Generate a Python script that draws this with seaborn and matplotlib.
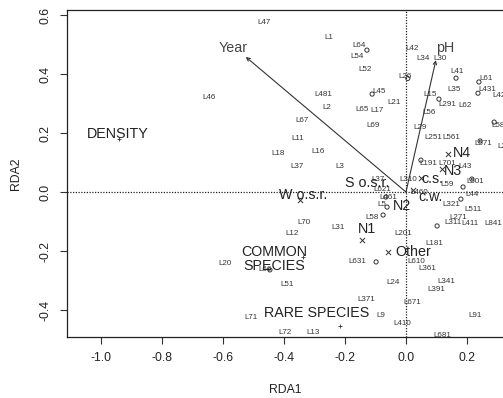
import matplotlib
matplotlib.use('Agg')
import matplotlib.pyplot as plt
import seaborn as sns
import pandas as pd

# site scores (labels only)
site_names = ['L47', 'L46', 'L1', 'L64', 'L54', 'L52', 'L42', 'L34', 'L30', 'L26',
              'L41', 'L61', 'L431', 'L42', 'L481', 'L45', 'L35', 'L15', 'L21', 'L2',
              'L65', 'L17', 'L291', 'L62', 'L56', 'L67', 'L69', 'L29', 'L581', 'L251',
              'L561', 'L571', 'L22', 'L191', 'L701', 'L43', 'L310', 'L59', 'L501', 'L37',
              'L621', 'L461', 'L5', 'L460', 'L3', 'L16', 'L11', 'L18', 'L37', 'L58',
              'L70', 'L31', 'L12', 'L201', 'L20', 'L66', 'L51', 'L631', 'L181', 'L610',
              'L361', 'L24', 'L341', 'L391', 'L371', 'L671', 'L9', 'L91', 'L71', 'L410',
              'L72', 'L13', 'L681', 'L44', 'L321', 'L511', 'L271', 'L311', 'L411', 'L841']
site_x = [-0.466, -0.646, -0.252, -0.154, -0.161, -0.134, 0.020, 0.056, 0.112, -0.003,
          0.167, 0.262, 0.268, 0.305, -0.272, -0.089, 0.157, 0.079, -0.039, -0.259,
          -0.144, -0.095, 0.134, 0.193, 0.075, -0.341, -0.108, 0.046, 0.310, 0.089,
          0.148, 0.252, 0.321, 0.072, 0.134, 0.193, 0.007, 0.134, 0.226, -0.092,
          -0.079, -0.059, -0.079, 0.043, -0.216, -0.289, -0.354, -0.420, -0.357, -0.111,
          -0.334, -0.223, -0.374, -0.010, -0.593, -0.462, -0.390, -0.161, 0.092, 0.033,
          0.069, -0.043, 0.131, 0.098, -0.131, 0.020, -0.082, 0.226, -0.508, -0.013,
          -0.397, -0.305, 0.118, 0.216, 0.148, 0.220, 0.170, 0.154, 0.210, 0.285]
site_y = [0.576, 0.322, 0.525, 0.498, 0.461, 0.414, 0.485, 0.451, 0.451, 0.390,
          0.407, 0.386, 0.349, 0.328, 0.332, 0.342, 0.346, 0.332, 0.305, 0.285,
          0.281, 0.278, 0.295, 0.292, 0.268, 0.241, 0.227, 0.220, 0.227, 0.186,
          0.186, 0.163, 0.153, 0.098, 0.098, 0.088, 0.044, 0.024, 0.037, 0.044,
          0.007, -0.017, -0.041, -0.003, 0.085, 0.136, 0.180, 0.132, 0.085, -0.085,
          -0.105, -0.119, -0.142, -0.142, -0.241, -0.261, -0.315, -0.237, -0.176, -0.234,
          -0.258, -0.308, -0.302, -0.329, -0.366, -0.373, -0.420, -0.417, -0.427, -0.447,
          -0.475, -0.475, -0.485, -0.007, -0.041, -0.058, -0.085, -0.105, -0.108, -0.108]

# small open circles
circle_x = [-0.128, 0.006, 0.164, 0.239, 0.236, -0.111, 0.108, 0.289, 0.243, 0.049,
            0.216, 0.187, 0.180, -0.066, -0.062, -0.075, -0.098, 0.102, -0.446]
circle_y = [0.481, 0.385, 0.386, 0.373, 0.335, 0.332, 0.315, 0.237, 0.173, 0.108,
            0.044, 0.017, -0.024, -0.017, -0.051, -0.078, -0.237, -0.115, -0.264]

# species / group scores
cross_x = [0.138, 0.118, 0.049, 0.023, -0.348, -0.144, -0.059]
cross_y = [0.129, 0.078, 0.047, 0.007, -0.027, -0.163, -0.203]
plus_x = [-0.338, -0.216, -0.941]
plus_y = [-0.220, -0.454, 0.180]

group_names = ['DENSITY', 'W o.s.r.', 'S o.s.r.', 'c.s.', 'c.w.', 'N4', 'N3', 'N2',
               'N1', 'Other', 'COMMON\nSPECIES', 'RARE SPECIES']
group_x = [-0.944, -0.338, -0.128, 0.087, 0.079, 0.184, 0.154, -0.013,
           -0.128, 0.023, -0.433, -0.292]
group_y = [0.197, -0.010, 0.031, 0.044, -0.017, 0.132, 0.071, -0.047,
           -0.125, -0.203, -0.227, -0.410]

# environmental arrows
env_names = ['Year', 'pH']
env_x = [-0.525, 0.098]
env_y = [0.458, 0.447]
env_lab_x = [-0.567, 0.128]
env_lab_y = [0.488, 0.488]

sns.set_style('white')
plt.rcParams['font.family'] = ['Liberation Sans', 'DejaVu Sans']
plt.rcParams['axes.unicode_minus'] = False

fig = plt.figure(figsize=(5.03, 3.98), dpi=100)
ax = fig.add_axes([67 / 503, 1 - 337 / 398, 1 - 67 / 503, 327 / 398])

ax.axhline(0, color='#222222', ls=(0, (1, 1.2)), lw=0.9, zorder=1)
ax.axvline(0, color='#222222', ls=(0, (1, 1.2)), lw=0.9, zorder=1)

circles = pd.DataFrame({'x': circle_x, 'y': circle_y})
sns.scatterplot(data=circles, x='x', y='y', ax=ax, marker='o', s=9,
                facecolor='none', edgecolor='#333333', linewidth=0.7, zorder=3)
crosses = pd.DataFrame({'x': cross_x, 'y': cross_y})
sns.scatterplot(data=crosses, x='x', y='y', ax=ax, marker='x', s=14,
                color='#333333', linewidth=0.7, zorder=3)
pluses = pd.DataFrame({'x': plus_x, 'y': plus_y})
sns.scatterplot(data=pluses, x='x', y='y', ax=ax, marker='+', s=10,
                color='#333333', linewidth=0.6, zorder=3)

for name, x, y in zip(site_names, site_x, site_y):
    ax.text(x, y, name, fontsize=5.8, color='#333333', ha='center', va='center',
            zorder=4, clip_on=True)

for name, x, y in zip(group_names, group_x, group_y):
    ax.text(x, y, name, fontsize=10.3, color='#222222', ha='center', va='center',
            linespacing=1.05, zorder=5)

for name, x, y, lx, ly in zip(env_names, env_x, env_y, env_lab_x, env_lab_y):
    ax.annotate('', xy=(x, y), xytext=(0, 0),
                arrowprops=dict(arrowstyle='->', color='#333333', lw=0.8,
                                shrinkA=0, shrinkB=0, mutation_scale=6))
    ax.text(lx, ly, name, fontsize=10.3, color='#444444', ha='center', va='center')

ax.set_xlim(-1.111, 0.318)
ax.set_ylim(-0.4915, 0.617)
ax.set_xticks([-1.0, -0.8, -0.6, -0.4, -0.2, 0.0, 0.2])
ax.set_yticks([-0.4, -0.2, 0.0, 0.2, 0.4, 0.6])
ax.tick_params(axis='both', direction='out', length=5, width=0.8, color='#333333',
               labelsize=8.8, labelcolor='#222222', left=True, bottom=True, pad=6)
for lab in ax.get_yticklabels():
    lab.set_rotation(90)
    lab.set_va('center')
ax.set_xlabel('RDA1', fontsize=8.8, color='#222222', labelpad=14)
ax.set_ylabel('RDA2', fontsize=8.8, color='#222222', labelpad=13)

for side in ['left', 'bottom', 'top']:
    ax.spines[side].set_color('#222222')
    ax.spines[side].set_linewidth(0.9)
ax.spines['right'].set_visible(False)

fig.savefig('out.png', dpi=100)
